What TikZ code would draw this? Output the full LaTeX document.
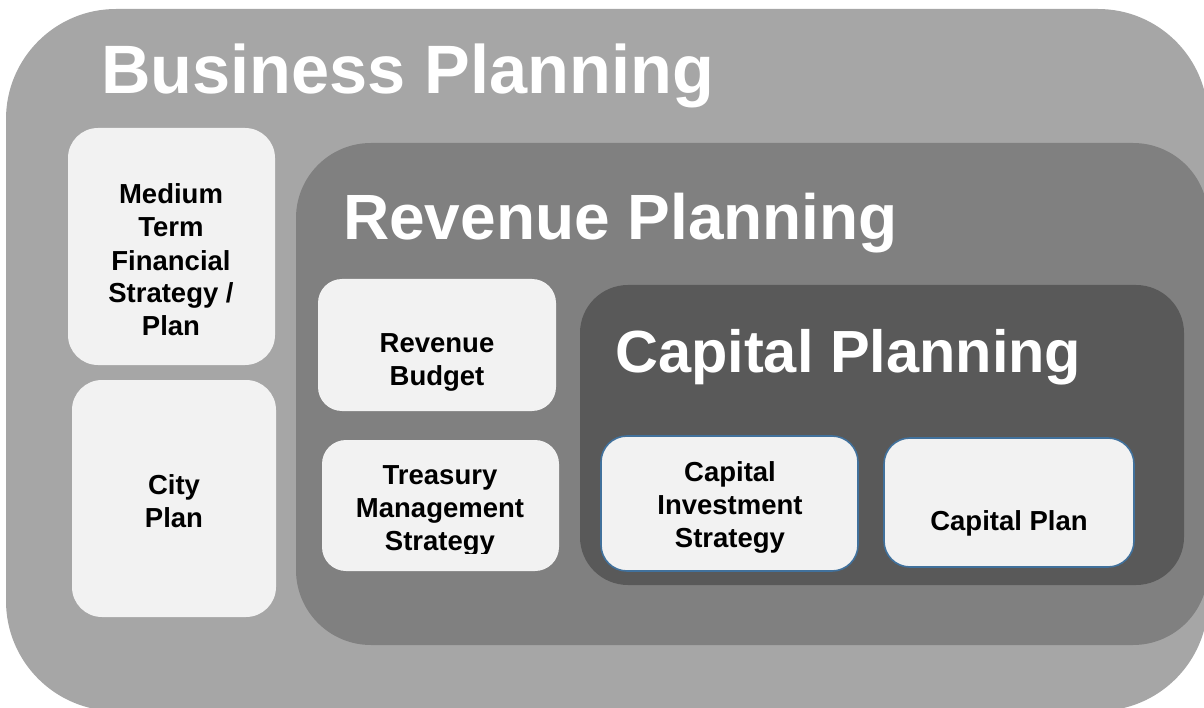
\documentclass[tikz,border=0pt]{standalone}
\usepackage{fontspec}
\setmainfont{Liberation Sans}
\definecolor{bizgray}{HTML}{A6A6A6}
\definecolor{revgray}{HTML}{808080}
\definecolor{capgray}{HTML}{595959}
\definecolor{boxfill}{HTML}{F2F2F2}
\definecolor{boxline}{HTML}{41719C}
\begin{document}
\begin{tikzpicture}[x=1pt,y=-1pt,
  panel/.style={rectangle, rounded corners=#1, draw=none, inner sep=0pt, outer sep=0pt, anchor=north west},
  card/.style={panel=#1, fill=boxfill},
  capcard/.style={panel=#1, fill=boxfill, draw=boxline, line width=1.6pt},
  head/.style={text=white, inner sep=0pt, anchor=base west, font=\fontsize{#1}{#1}\selectfont\bfseries},
  label/.style={text=black, inner sep=0pt, anchor=base, align=center, font=\fontsize{27.5}{33}\selectfont\bfseries}
]
\useasboundingbox (0,0) rectangle (1204,708);
% panels
\node[panel=110pt, fill=bizgray, minimum width=1202pt, minimum height=702pt] (biz) at (6,9) {};
\node[panel=75pt, fill=revgray, minimum width=912pt, minimum height=502pt] (rev) at (296,143) {};
\node[panel=48pt, fill=capgray, minimum width=604pt, minimum height=300pt] (cap) at (580,285) {};
% headings
\node[head=68.5] (bizt) at (101,94) {Business Planning};
\node[head=64] (revt) at (343,240) {Revenue Planning};
\node[head=59.5] (capt) at (615,372) {Capital Planning};
% cards
\node[card=30pt, minimum width=207pt, minimum height=237pt] (mtfs) at (68,128) {};
\node[card=30pt, minimum width=204pt, minimum height=237pt] (city) at (72,380) {};
\node[card=24pt, minimum width=238pt, minimum height=132pt] (rb) at (318,279) {};
\node[card=24pt, minimum width=237pt, minimum height=131pt] (tms) at (322,440) {};
\node[capcard=26pt, minimum width=257pt, minimum height=135pt] (cis) at (601,436) {};
\node[capcard=26pt, minimum width=250pt, minimum height=129pt] (cp) at (884,438) {};
% labels (anchor = baseline of the last line)
\node[label] (mtfst) at (171,336) {Medium\\Term\\Financial\\Strategy /\\Plan};
\node[label] (cityt) at (174,527) {City\\Plan};
\node[label] (rbt) at (437,385) {Revenue\\Budget};
\begin{scope}
\clip (322,440) rectangle (559,553);
\node[label] (tmst) at (440,550) {Treasury\\Management\\Strategy};
\end{scope}
\node[label] (cist) at (730,547) {Capital\\Investment\\Strategy};
\node[label] (cpt) at (1009,530) {Capital Plan};
\end{tikzpicture}
\end{document}
